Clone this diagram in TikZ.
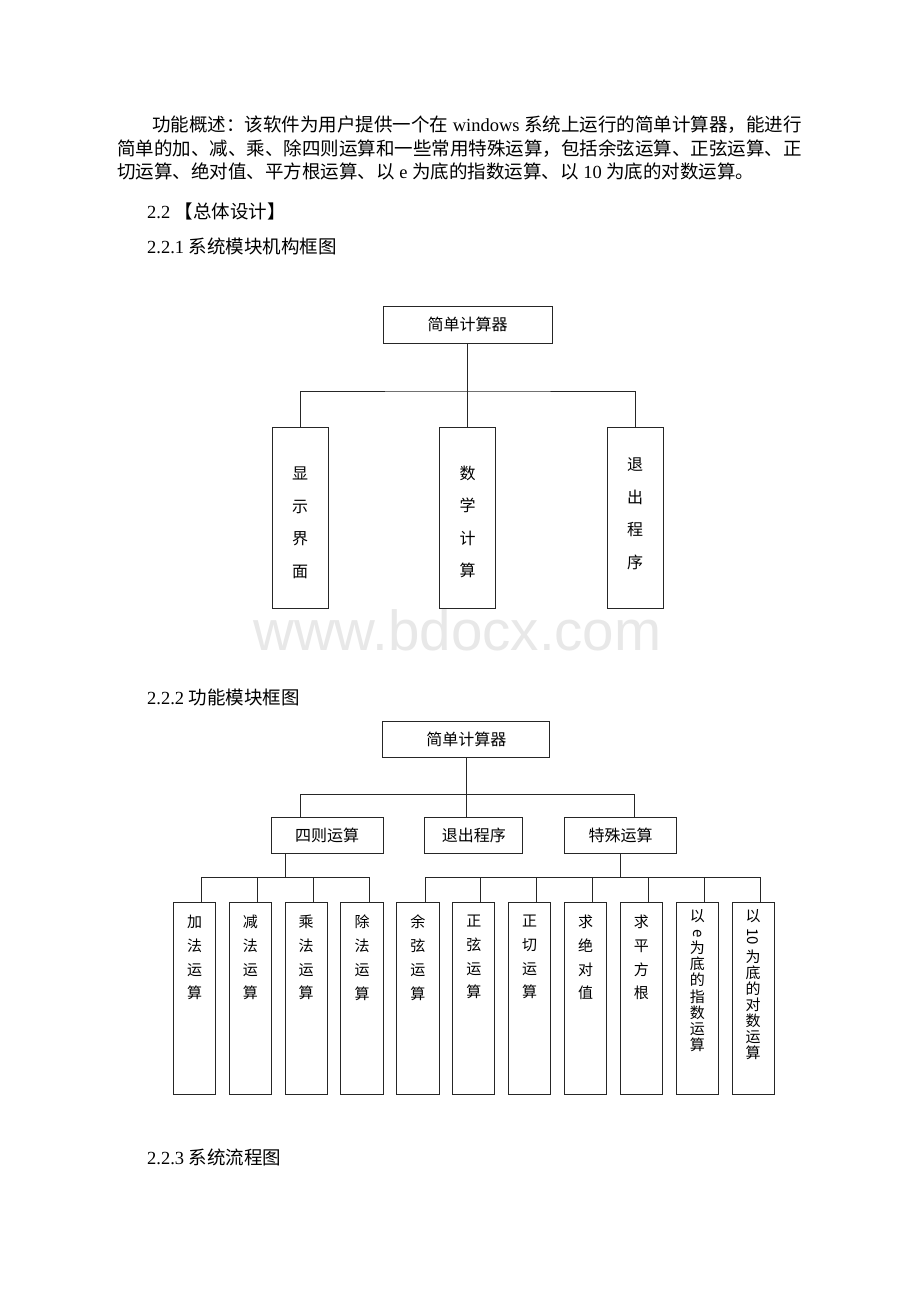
\documentclass[tikz,border=0pt]{standalone}
\usepackage{fontspec}
\usepackage{graphicx}
\setmainfont{Liberation Serif}
\newfontfamily\cjk{Noto Sans CJK SC}
\newfontfamily\tnr{Liberation Serif}
\newfontfamily\wmfont{Liberation Sans}
\newcommand{\turnlat}[1]{\smash{\rotatebox[origin=c]{-90}{#1}}}

\begin{document}
\begin{tikzpicture}[x=1pt,y=-1pt,
    ink/.style={draw=black!85,line width=1pt},
    box/.style={ink,inner sep=0pt,minimum height=36pt,font=\cjk\fontsize{16pt}{19pt}\selectfont},
    tall/.style={ink,inner sep=0pt,anchor=north,minimum width=56pt,minimum height=181pt},
    leaf/.style={ink,inner sep=0pt,anchor=north,minimum width=42.3pt,minimum height=192.6pt},
    tallchars/.style={inner sep=0pt,anchor=north,align=center,font=\cjk\fontsize{16pt}{32.5pt}\selectfont},
    leafchars/.style={inner sep=0pt,anchor=north,align=center,font=\cjk\fontsize{15pt}{23.7pt}\selectfont},
    vertchars/.style={inner sep=0pt,anchor=north,align=center,font=\cjk\fontsize{15pt}{16.1pt}\selectfont},
    body/.style={inner sep=0pt,anchor=base west,font=\cjk\fontsize{18.5pt}{23.5pt}\selectfont}]
  \path[use as bounding box,fill=white] (0,0) rectangle (920,1302);

  % text of the page
  \node[body] (intro1) at (152,131) {功能概述：该软件为用户提供一个在{\tnr\ windows\ }系统上运行的简单计算器，能进行};
  \node[body] (intro2) at (117,155) {简单的加、减、乘、除四则运算和一些常用特殊运算，包括余弦运算、正弦运算、正};
  \node[body] (intro3) at (117,178) {切运算、绝对值、平方根运算、以{\tnr\ e\ }为底的指数运算、以{\tnr\ 10\ }为底的对数运算。};
  \node[body] (sec22) at (147,218.5) {{\tnr 2.2\ }【总体设计】};
  \node[body] (sec221) at (147,253.5) {{\tnr 2.2.1\ }系统模块机构框图};
  \node[body] (sec222) at (147,704) {{\tnr 2.2.2\ }功能模块框图};
  \node[body] (sec223) at (147,1164) {{\tnr 2.2.3\ }系统流程图};
  \node[inner sep=0pt,anchor=base,text=black!9,font=\wmfont\fontsize{56.5pt}{60pt}\selectfont] (mark) at (457.4,650) {www.bdocx.com};

  % system modules
  \node[box,minimum width=169pt,minimum height=37pt] (calc1) at (467.5,324.5) {简单计算器};
  \node[tall] (disp) at (300,427) {};
  \node[tall] (math) at (467.5,427) {};
  \node[tall] (quit) at (635,427) {};
  \node[tallchars] (disp-t) at (300,466.8) {显\\示\\界\\面};
  \node[tallchars] (math-t) at (467.5,465.8) {数\\学\\计\\算};
  \node[tallchars] (quit-t) at (635,457.8) {退\\出\\程\\序};
  \coordinate (bus1) at (467.5,391);
  \begin{scope}[ink]
    \draw (calc1) to (math);
    \draw (disp.north) |- (bus1) -| (quit.north);
  \end{scope}

  % function modules
  \node[box,minimum width=167.3pt] (calc2) at (466.3,739.7) {简单计算器};
  \node[box,minimum width=112.3pt] (basic) at (327.2,835.3) {四则运算};
  \node[box,minimum width=97.7pt] (exit) at (473.8,835.3) {退出程序};
  \node[box,minimum width=112.3pt] (special) at (620.5,835.3) {特殊运算};

  \node[leaf] (add) at (194.5,901.7) {};
  \node[leaf] (sub) at (250.3,901.7) {};
  \node[leaf] (mul) at (306.2,901.7) {};
  \node[leaf] (div) at (362.1,901.7) {};
  \node[leaf] (cos) at (417.9,901.7) {};
  \node[leaf] (sin) at (473.8,901.7) {};
  \node[leaf] (tan) at (529.7,901.7) {};
  \node[leaf] (abs) at (585.5,901.7) {};
  \node[leaf] (sqrt) at (641.4,901.7) {};
  \node[leaf] (exp) at (697.3,901.7) {};
  \node[leaf] (log) at (753.2,901.7) {};

  \node[leafchars] (add-t) at (194.5,915) {加\\法\\运\\算};
  \node[leafchars] (sub-t) at (250.3,915) {减\\法\\运\\算};
  \node[leafchars] (mul-t) at (306.2,915) {乘\\法\\运\\算};
  \node[leafchars] (div-t) at (362.1,915) {除\\法\\运\\算};
  \node[leafchars] (cos-t) at (417.9,915) {余\\弦\\运\\算};
  \node[leafchars] (sin-t) at (473.8,915) {正\\弦\\运\\算};
  \node[leafchars] (tan-t) at (529.7,915) {正\\切\\运\\算};
  \node[leafchars] (abs-t) at (585.5,915) {求\\绝\\对\\值};
  \node[leafchars] (sqrt-t) at (641.4,915) {求\\平\\方\\根};
  \node[vertchars] (exp-t) at (697.3,909.3) {以\\\turnlat{e}\\为\\底\\的\\指\\数\\运\\算};
  \node[vertchars] (log-t) at (753.2,909.3) {以\\[4.6pt]\turnlat{10}\\[4pt]为\\底\\的\\对\\数\\运\\算};

  \coordinate (bus2l) at (300,794);
  \coordinate (bus2r) at (634.3,794);
  \coordinate (bus3) at (285.7,877.7);
  \coordinate (bus4) at (620.5,877.7);
  \coordinate (add-in) at ([xshift=7.1pt]add.north);
  \coordinate (sub-in) at ([xshift=7.1pt]sub.north);
  \coordinate (mul-in) at ([xshift=7.1pt]mul.north);
  \coordinate (div-in) at ([xshift=7.1pt]div.north);
  \coordinate (cos-in) at ([xshift=7.1pt]cos.north);
  \coordinate (sin-in) at ([xshift=7.1pt]sin.north);
  \coordinate (tan-in) at ([xshift=7.1pt]tan.north);
  \coordinate (abs-in) at ([xshift=7.1pt]abs.north);
  \coordinate (sqrt-in) at ([xshift=7.1pt]sqrt.north);
  \coordinate (exp-in) at ([xshift=7.1pt]exp.north);
  \coordinate (log-in) at ([xshift=7.1pt]log.north);
  \begin{scope}[ink]
    \draw (calc2.south) to (calc2.south |- exit.north);
    \draw (bus2l |- basic.north) -- (bus2l) -- (bus2r) -- (bus2r |- special.north);
    \draw (bus3 |- basic.south) to (bus3);
    \draw (special.south) to (bus4);
    \draw (add-in) |- (div-in |- bus3) -- (div-in);
    \draw (sub-in) to (sub-in |- bus3);
    \draw (mul-in) to (mul-in |- bus3);
    \draw (cos-in) |- (log-in |- bus4) -- (log-in);
    \draw (sin-in) to (sin-in |- bus4);
    \draw (tan-in) to (tan-in |- bus4);
    \draw (abs-in) to (abs-in |- bus4);
    \draw (sqrt-in) to (sqrt-in |- bus4);
    \draw (exp-in) to (exp-in |- bus4);
  \end{scope}
\end{tikzpicture}
\end{document}
